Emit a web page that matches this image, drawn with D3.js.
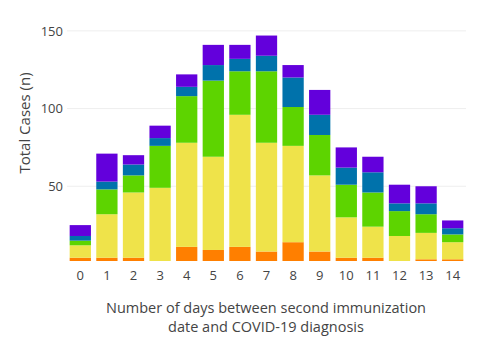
<!DOCTYPE html>
<html><head><meta charset="utf-8">
<script src="https://cdn.jsdelivr.net/npm/d3@7"></script>
<style>body{margin:0;background:#fff;}svg{display:block;font-family:"Open Sans",sans-serif;}</style>
</head><body>
<script>
const days = ["0","1","2","3","4","5","6","7","8","9","10","11","12","13","14"];
const orange = [4,4,4,0,11,9,11,8,14,8,4,4,0,3,3];
const yellow = [8,28,42,49,67,60,85,70,62,49,26,20,18,17,11];
const green  = [3,16,11,27,30,49,28,46,25,26,21,22,16,12,5];
const blue   = [3,5,7,5,6,10,8,10,19,13,11,13,5,7,4];
const purple = [7,18,6,8,8,13,9,13,8,16,13,10,12,11,5];
const seriesKeys = ["orange","yellow","green","blue","purple"];
const seriesColors = ["#ff7f00","#efe34a","#5dd400","#0072ab","#6300dc"];
const yTicks = [50,100,150];
const xTitleLines = ["Number of days between second immunization","date and COVID-19 diagnosis"];

const W=478,H=352;
const svg=d3.select("body").append("svg").attr("width",W).attr("height",H);
const x=d3.scaleBand().domain(days).range([67,466]).paddingInner(0.2).paddingOuter(0.1);
const y=d3.scaleLinear().domain([1.9,157]).range([261,20]);

const table=days.map((d,i)=>({day:d,orange:orange[i],yellow:yellow[i],green:green[i],blue:blue[i],purple:purple[i]}));
const stacked=d3.stack().keys(seriesKeys)(table);

svg.append("g").selectAll("line").data(yTicks).join("line")
  .attr("x1",67).attr("x2",466).attr("y1",d=>y(d)).attr("y2",d=>y(d))
  .attr("stroke","#eeeeee").attr("stroke-width",1);

svg.append("clipPath").attr("id","c").append("rect").attr("x",67).attr("y",20).attr("width",399).attr("height",241);
const g=svg.append("g").attr("clip-path","url(#c)");
g.selectAll("g").data(stacked).join("g").attr("fill",(d,i)=>seriesColors[i])
 .selectAll("rect").data(d=>d).join("rect")
 .attr("x",d=>x(d.data.day)).attr("width",x.bandwidth())
 .attr("y",d=>y(d[1])).attr("height",d=>Math.max(0,y(d[0])-y(d[1])));

const ya=svg.append("g").attr("transform","translate(67,0)")
  .call(d3.axisLeft(y).tickValues(yTicks).tickSize(0).tickPadding(4));
ya.select(".domain").remove();
ya.selectAll("text").attr("font-size",13).attr("fill","#444").attr("font-family","Open Sans");

const xa=svg.append("g").attr("transform","translate(0,261)")
  .call(d3.axisBottom(x).tickSize(0).tickPadding(10));
xa.select(".domain").remove();
xa.selectAll("text").attr("font-size",13).attr("fill","#444").attr("font-family","Open Sans");

svg.append("text").attr("transform","translate(30,123) rotate(-90)").attr("text-anchor","middle")
  .attr("font-size",15).attr("fill","#444").text("Total Cases (n)");
svg.selectAll("text.xt").data(xTitleLines).join("text").attr("class","xt")
  .attr("x",266).attr("y",(d,i)=>313+i*19).attr("text-anchor","middle")
  .attr("font-size",14.5).attr("fill","#444").text(d=>d);
</script>
</body></html>
